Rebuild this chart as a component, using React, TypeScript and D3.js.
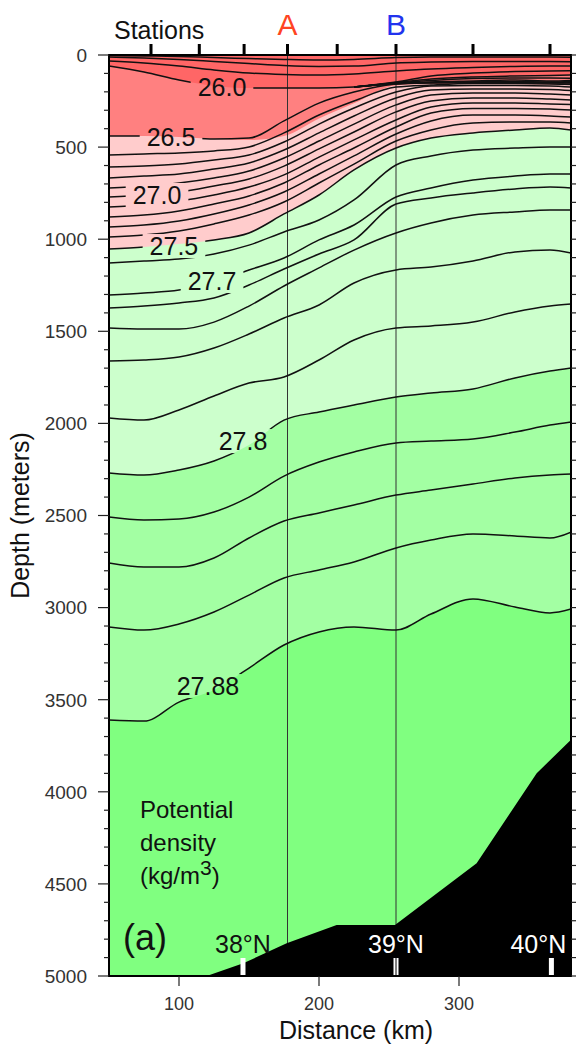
import * as d3 from 'd3'

// distance along the section (km) where the isopycnal depths were read
const distanceKm = [50, 75, 100, 125, 150, 175, 200, 225, 255, 280, 310, 340, 365, 380]

// isopycnal depths (m); null = merged into the 26.0 line
const sigma25_6 = [3, 5, 8, 14, 19, 24, 27, 24, 14, 11, 11, 11, 11, 12]
const sigma25_7 = [11, 16, 24, 35, 46, 57, 62, 60, 43, 38, 35, 35, 35, 36]
const sigma25_8 = [33, 43, 60, 81, 98, 106, 109, 103, 87, 76, 68, 62, 60, 60]
const sigma25_9 = [null, null, null, null, null, null, null, 174, 147, 114, 98, 90, 87, 85]
const sigma26_0 = [60, 92, 136, 168, 179, 179, 179, 174, 149, 130, 119, 114, 111, 109]
const sigma26_1 = [null, null, null, null, null, null, null, 174, 152, 138, 128, 125, 125, 126]
const sigma26_2 = [null, null, null, null, null, null, null, 174, 155, 146, 141, 136, 141, 138]
const sigma26_3 = [null, null, null, null, null, null, null, 174, 155, 149, 147, 144, 147, 144]
const sigma26_4 = [null, null, null, null, null, null, null, 174, 157, 152, 150, 149, 152, 150]
const sigma26_5 = [440, 440, 445, 456, 451, 358, 261, 201, 157, 149, 147, 147, 149, 152]
const sigma26_6 = [543, 537, 532, 521, 499, 423, 326, 250, 174, 163, 155, 155, 157, 160]
const sigma26_7 = [608, 603, 592, 570, 543, 472, 375, 288, 201, 168, 166, 166, 168, 174]
const sigma26_8 = [668, 657, 646, 619, 586, 516, 423, 331, 233, 190, 185, 185, 187, 193]
const sigma26_9 = [722, 711, 695, 668, 630, 559, 467, 375, 271, 217, 206, 206, 212, 217]
const sigma27_0 = [771, 760, 744, 711, 673, 603, 510, 418, 309, 250, 233, 233, 239, 244]
const sigma27_1 = [825, 814, 793, 760, 717, 651, 554, 461, 353, 282, 261, 261, 266, 269]
const sigma27_2 = [879, 869, 847, 809, 765, 695, 597, 505, 391, 315, 290, 290, 293, 299]
const sigma27_3 = [934, 923, 901, 863, 814, 744, 646, 548, 429, 358, 326, 326, 331, 337]
const sigma27_4 = [988, 977, 955, 917, 869, 798, 695, 592, 467, 407, 369, 364, 364, 369]
const sigma27_5 = [1053, 1042, 1026, 1004, 966, 863, 760, 624, 505, 451, 423, 407, 396, 407]
const sigma27_6 = [1129, 1118, 1108, 1080, 1032, 961, 896, 787, 597, 548, 516, 505, 499, 499]
const sigma27_7 = [1303, 1292, 1276, 1232, 1167, 1102, 1004, 923, 771, 722, 679, 657, 646, 646]
const sigma27_72 = [1374, 1363, 1346, 1319, 1249, 1162, 1080, 1004, 809, 776, 749, 727, 717, 722]
const sigma27_74 = [1482, 1488, 1488, 1450, 1363, 1254, 1156, 1059, 966, 912, 869, 852, 841, 841]
const sigma27_76 = [1661, 1656, 1640, 1591, 1515, 1428, 1357, 1238, 1167, 1151, 1118, 1069, 1059, 1075]
const sigma27_78 = [1971, 1982, 1927, 1851, 1781, 1748, 1656, 1547, 1482, 1471, 1450, 1395, 1363, 1352]
const sigma27_8 = [2269, 2280, 2253, 2204, 2117, 1982, 1938, 1900, 1857, 1835, 1813, 1753, 1716, 1699]
const sigma27_82 = [2508, 2524, 2519, 2481, 2400, 2286, 2210, 2155, 2106, 2096, 2085, 2047, 2009, 1992]
const sigma27_84 = [2758, 2780, 2780, 2731, 2622, 2530, 2486, 2443, 2389, 2362, 2329, 2296, 2280, 2275]
const sigma27_86 = [3105, 3122, 3089, 3024, 2932, 2839, 2796, 2752, 2676, 2633, 2600, 2611, 2622, 2590]
const sigma27_88 = [3610, 3616, 3513, 3447, 3328, 3203, 3132, 3105, 3122, 3035, 2953, 2997, 3029, 3008]

// lower edge of the salmon colour band (gridded colour, not exactly a contour)
const salmonEdge = [440, 440, 445, 456, 462, 440, 345, 262, 165, 157, 157, 157, 160, 163]

const contourLabels = [
  { text: '26.0', km: 130.7, depth: 174 },
  { text: '26.5', km: 94.3, depth: 445 },
  { text: '27.0', km: 84.3, depth: 760 },
  { text: '27.5', km: 96.4, depth: 1037 },
  { text: '27.7', km: 123.6, depth: 1227 },
  { text: '27.8', km: 145.7, depth: 2096 },
  { text: '27.88', km: 120.7, depth: 3426 },
]

const stationKm = [80, 114.5, 146.5, 177.5, 213, 255, 310, 365]
const sections = [
  { name: 'A', km: 177.5, color: '#ff4422' },
  { name: 'B', km: 255, color: '#2233ee' },
]

const bathyKm = [119.8, 145.9, 176.9, 212.6, 254.3, 312.6, 355.5, 380]
const bathyDepth = [5000, 4931, 4822, 4723, 4723, 4388, 3899, 3718]

const latitudes = [
  { label: '38°N', km: 145.7, color: '#111', double: false },
  { label: '39°N', km: 255, color: '#fff', double: true },
  { label: '40°N', km: 366, color: '#fff', double: false },
]

const depthTicks = d3.range(0, 5001, 100)
const distanceTicks = [100, 200, 300]

const W = 577
const H = 1046
const FONT = 'Liberation Sans, Arial, Helvetica, sans-serif'

export default function App() {
  const x = d3.scaleLinear().domain([50, 380]).range([109, 571])
  const y = d3.scaleLinear().domain([0, 5000]).range([55, 976])
  const [x0, x1] = x.range()
  const [y0, y1] = y.range()

  const isopycnals = [
    sigma25_6, sigma25_7, sigma25_8, sigma25_9, sigma26_0, sigma26_1, sigma26_2, sigma26_3,
    sigma26_4, sigma26_5, sigma26_6, sigma26_7, sigma26_8, sigma26_9, sigma27_0, sigma27_1,
    sigma27_2, sigma27_3, sigma27_4, sigma27_5, sigma27_6, sigma27_7, sigma27_72, sigma27_74,
    sigma27_76, sigma27_78, sigma27_8, sigma27_82, sigma27_84, sigma27_86, sigma27_88,
  ]

  const surface = distanceKm.map(() => 0)
  const bands = [
    { top: surface, color: '#ff6666' },
    { top: sigma26_0, color: '#ff8080' },
    { top: salmonEdge, color: '#ffcccc' },
    { top: sigma27_5, color: '#ccffcc' },
    { top: sigma27_8, color: '#a3ffa3' },
    { top: sigma27_88, color: '#80ff80' },
  ]

  // each band is filled down to the floor, later bands paint over it
  const area = d3.area<number>()
    .x((_, i) => x(distanceKm[i]))
    .y0(d => y(d))
    .y1(y(5000))
    .curve(d3.curveMonotoneX)

  const line = d3.line<number | null>()
    .defined(d => d != null)
    .x((_, i) => x(distanceKm[i]))
    .y(d => y(d as number))
    .curve(d3.curveMonotoneX)

  const bathyPts: [number, number][] = bathyKm.map((k, i) => [x(k), y(bathyDepth[i])])
  bathyPts.push([x(380), y(5000)])
  const bathyPath = d3.line()(bathyPts) + 'Z'

  const labelFs = 25
  const labelWidth = (t: string) => {
    const digits = t.replace('.', '').length
    return (digits * 0.556 + 0.278) * labelFs
  }

  return (
    <svg width={W} height={H} style={{ position: 'absolute', left: 0, top: 0, background: '#fff' }} fontFamily={FONT}>
      <defs>
        <clipPath id="plot">
          <rect x={x0} y={y0} width={x1 - x0} height={y1 - y0} />
        </clipPath>
        <mask id="labelGaps" maskUnits="userSpaceOnUse" x={0} y={0} width={W} height={H}>
          <rect x={0} y={0} width={W} height={H} fill="#fff" />
          {contourLabels.map(l => {
            const w = labelWidth(l.text) + 14
            return <rect key={l.text} x={x(l.km) - w / 2} y={y(l.depth) - 12} width={w} height={24} fill="#000" />
          })}
        </mask>
      </defs>

      <g clipPath="url(#plot)">
        {bands.map((b, i) => (
          <path key={i} d={area(b.top) ?? ''} fill={b.color} />
        ))}

        {sections.map(s => (
          <line key={s.name} x1={x(s.km)} x2={x(s.km)} y1={y0} y2={y1} stroke="#333" strokeWidth={1} />
        ))}

        <g mask="url(#labelGaps)">
          {isopycnals.map((d, i) => (
            <path key={i} d={line(d) ?? ''} fill="none" stroke="#111" strokeWidth={1.5} strokeLinejoin="round" />
          ))}
        </g>

        <path d={bathyPath} fill="#000" />
      </g>

      {contourLabels.map(l => (
        <text key={l.text} x={x(l.km)} y={y(l.depth)} dy="0.36em" textAnchor="middle" fontSize={labelFs} fill="#111">
          {l.text}
        </text>
      ))}

      {/* latitude marks on the sea floor */}
      {latitudes.map(l => (
        <g key={l.label}>
          <rect x={x(l.km) - 2.5} y={y1 - 18} width={5} height={18} fill="#fff" />
          {l.double && <line x1={x(l.km)} x2={x(l.km)} y1={y1 - 18} y2={y1} stroke="#000" strokeWidth={1} />}
          <text x={x(l.km) + (l.km > 360 ? -13 : 0)} y={y1 - 23} textAnchor="middle" fontSize={25} fill={l.color}>
            {l.label}
          </text>
        </g>
      ))}

      <text x={123} y={950} fontSize={36} fill="#111">(a)</text>

      <text x={140} y={818} fontSize={24} fill="#111">Potential</text>
      <text x={140} y={851} fontSize={24} fill="#111">density</text>
      <text x={140} y={884} fontSize={24} fill="#111">
        (kg/m<tspan dy={-9} fontSize={21}>3</tspan><tspan dy={9}>)</tspan>
      </text>

      {/* frame */}
      <rect x={x0} y={y0} width={x1 - x0} height={y1 - y0} fill="none" stroke="#000" strokeWidth={2} />

      {/* depth axis */}
      {depthTicks.map(v => {
        const major = v % 500 === 0
        return (
          <g key={v}>
            <line x1={x0 - (major ? 11 : 5)} x2={x0} y1={y(v)} y2={y(v)} stroke="#222" strokeWidth={1.2} />
            <line x1={x1} x2={x1 + 5} y1={y(v)} y2={y(v)} stroke="#222" strokeWidth={1.2} />
            {major && (
              <text x={87} y={y(v)} dy="0.36em" textAnchor="end" fontSize={19} fill="#333">{v}</text>
            )}
          </g>
        )
      })}
      <text transform={`translate(29,${(y0 + y1) / 2}) rotate(-90)`} textAnchor="middle" fontSize={25} fill="#111">
        Depth (meters)
      </text>

      {/* distance axis */}
      {distanceTicks.map(v => (
        <g key={v}>
          <line x1={x(v)} x2={x(v)} y1={y1} y2={y1 + 10} stroke="#222" strokeWidth={1.2} />
          <text x={x(v)} y={1010} textAnchor="middle" fontSize={18} fill="#333">{v}</text>
        </g>
      ))}
      <text x={356} y={1039} textAnchor="middle" fontSize={25} fill="#111">Distance (km)</text>

      {/* stations along the top */}
      {stationKm.map(k => (
        <rect key={k} x={x(k) - 1.5} y={y0 - 11} width={3} height={11} fill="#000" />
      ))}
      <text x={114} y={39} fontSize={25} fill="#111">Stations</text>
      {sections.map(s => (
        <text key={s.name} x={x(s.km)} y={35} textAnchor="middle" fontSize={30} fill={s.color}>{s.name}</text>
      ))}
    </svg>
  )
}
